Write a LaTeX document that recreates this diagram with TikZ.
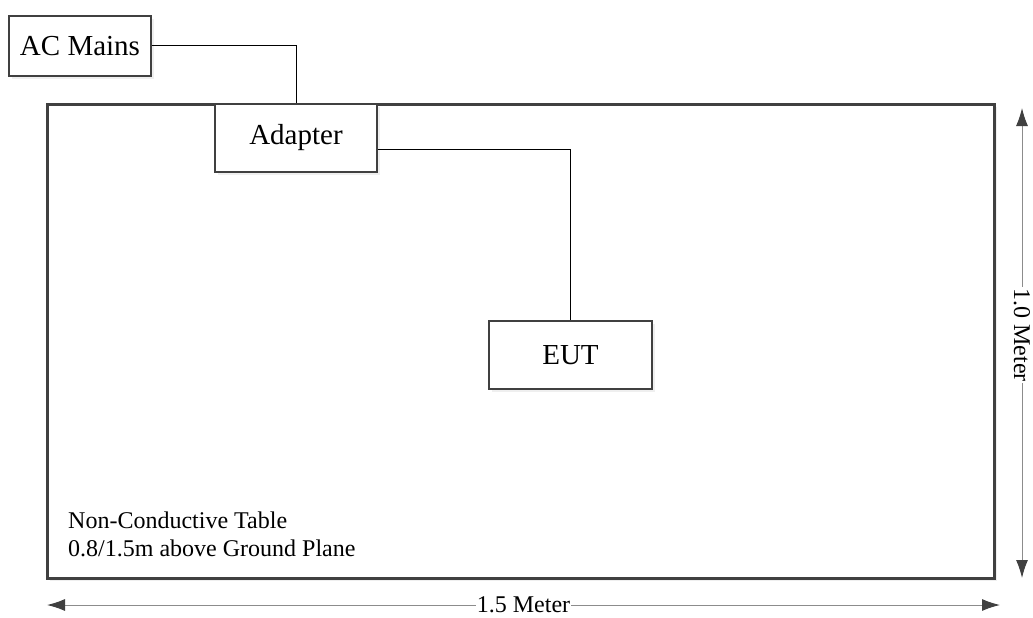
\documentclass[tikz,border=0pt]{standalone}
\usepackage{fontspec}
\setmainfont{Liberation Serif}
\usetikzlibrary{arrows.meta,shadows}

\tikzset{
  box/.style={rectangle,draw=black!75,line width=2.5pt,fill=white,
    drop shadow={shadow xshift=3pt,shadow yshift=-3pt,fill=black!12},
    font=\fontsize{29}{33}\selectfont},
  dim/.style={draw=black!45,line width=1pt,
    {Latex[length=18pt,width=12pt,color=black!75]}-{Latex[length=18pt,width=12pt,color=black!75]}},
  dimlabel/.style={fill=white,inner sep=1pt,font=\fontsize{24}{28}\selectfont}
}

\begin{document}
\begin{tikzpicture}[x=1pt,y=-1pt]
        \useasboundingbox (0,0) rectangle (1033,618);
        \node[box,line width=3pt,minimum width=947pt,minimum height=474pt] (table) at (520.5,341) {};
        \node[box,minimum width=142pt,minimum height=60pt] (ac) at (80,46) {AC Mains};
        \node[box,minimum width=162pt,minimum height=68pt] (adapter) at (296,138) {Adapter};
        \node[box,minimum width=163pt,minimum height=68pt] (eut) at (570.5,355) {EUT};
        \node[anchor=west,align=left,inner sep=0pt,font=\fontsize{24}{28}\selectfont] (note) at (68,534)
          {Non-Conductive Table\\0.8/1.5m above Ground Plane};
        \draw[line width=1pt] (ac) -| (adapter);
        \draw[line width=1pt] ([yshift=-11pt]adapter.east) -| (eut);
        \coordinate (wl) at (47,605);
        \coordinate (wr) at (1000,605);
        \coordinate (ht) at (1022,108);
        \coordinate (hb) at (1022,578);
        \draw[dim] (wl) -- node[dimlabel] (wlabel) {1.5 Meter} (wr);
        \draw[dim] (ht) -- node[dimlabel,rotate=-90,pos=0.483] (hlabel) {1.0 Meter} (hb);
    \end{tikzpicture}
\end{document}
